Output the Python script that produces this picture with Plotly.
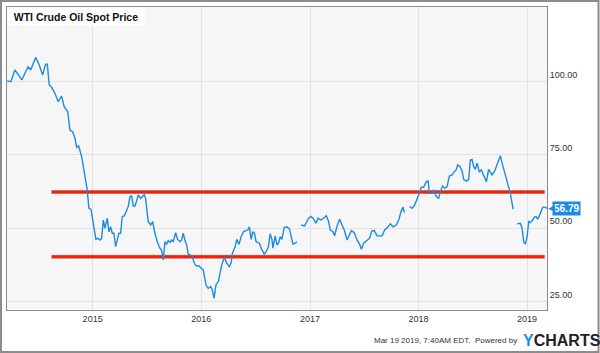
import pandas as pd
import plotly.graph_objects as go

# ---- data ----
# time as decimal years, WTI spot price in USD; None = gap in the series
t_year = [
    # 2014
    2014.213, 2014.247, 2014.284, 2014.314, 2014.348, 2014.376, 2014.406, 2014.429,
    2014.475, 2014.508, 2014.539, 2014.567, 2014.582, 2014.600, 2014.622, 2014.653,
    2014.683, 2014.714, 2014.738, 2014.770, 2014.791, 2014.816, 2014.837, 2014.853,
    2014.871, 2014.899, 2014.913, 2014.929, 2014.950,
    # 2015
    2014.966, 2014.984, 2014.996, 2015.012, 2015.030, 2015.046, 2015.067, 2015.083,
    2015.098, 2015.113, 2015.135, 2015.150, 2015.166, 2015.181, 2015.196, 2015.212,
    2015.227, 2015.242, 2015.258, 2015.273, 2015.291, 2015.313, 2015.328, 2015.344,
    2015.359, 2015.374, 2015.390, 2015.406, 2015.420, 2015.442, 2015.461, 2015.476,
    2015.488, 2015.498, 2015.512, 2015.535, 2015.553, 2015.574, 2015.595, 2015.620,
    2015.636, 2015.651, 2015.666, 2015.682, 2015.697, 2015.712, 2015.728, 2015.743,
    2015.765, 2015.783, 2015.805, 2015.820, 2015.835, 2015.851, 2015.866, 2015.881,
    2015.897, 2015.912, 2015.927, 2015.943, 2015.964, 2015.982, 2015.998,
    # 2016
    2016.019, 2016.044, 2016.065, 2016.088, 2016.102, 2016.118, 2016.136,
    2016.158, 2016.189, 2016.213, 2016.235, 2016.259, 2016.275, 2016.287, 2016.312,
    2016.327, 2016.348, 2016.367, 2016.388, 2016.410, 2016.429, 2016.443, 2016.459,
    2016.475, 2016.489, 2016.505, 2016.535, 2016.558, 2016.579, 2016.597, 2016.618,
    2016.634, 2016.650, 2016.659, 2016.680, 2016.696, 2016.711, 2016.726, 2016.742,
    2016.763, 2016.788, 2016.812, 2016.843, 2016.865, 2016.880, 2016.900,
    # 2017
    2016.920, 2016.950, 2016.987, 2017.012, 2017.033, 2017.055, 2017.074, 2017.101,
    2017.125, 2017.150, 2017.171, 2017.187, 2017.212, 2017.227, 2017.249, 2017.273,
    2017.295, 2017.316, 2017.341, 2017.362, 2017.381, 2017.408, 2017.433, 2017.457,
    2017.473, 2017.494, 2017.525, 2017.549, 2017.571, 2017.593, 2017.618, 2017.664,
    2017.688, 2017.715, 2017.740, 2017.765, 2017.795, 2017.817, 2017.839, 2017.857,
    2017.869, 2017.893,
    # 2018
    2017.918, 2017.940, 2017.964, 2017.986, 2018.007, 2018.026, 2018.047, 2018.072,
    2018.088, 2018.100, 2018.124, 2018.139, 2018.155, 2018.171, 2018.185, 2018.201,
    2018.222, 2018.241, 2018.263, 2018.284, 2018.309, 2018.323, 2018.346, 2018.360,
    2018.379, 2018.401, 2018.416, 2018.441, 2018.462, 2018.477, 2018.493, 2018.508,
    2018.523, 2018.539, 2018.560, 2018.579, 2018.600, 2018.625, 2018.646, 2018.662,
    2018.677, 2018.699, 2018.724, 2018.738, 2018.754, 2018.770, 2018.791, 2018.809,
    2018.830, 2018.846, 2018.871, 2018.890,
    # 2019
    2018.908, 2018.938, 2018.954, 2018.969, 2018.984, 2019.000, 2019.015, 2019.030,
    2019.052, 2019.067, 2019.083, 2019.098, 2019.113, 2019.129, 2019.144, 2019.169,
    2019.182,
]
wti_price = [
    # 2014
    100.3, 100.0, 104.0, 102.3, 100.6, 102.9, 105.1, 104.0,
    108.3, 105.7, 102.3, 106.0, 106.0, 98.9, 98.1, 96.0,
    93.2, 95.1, 91.5, 89.8, 83.5, 82.9, 80.7, 77.6,
    78.1, 74.4, 71.0, 67.6, 63.1,
    # 2015
    56.8, 56.5, 54.0, 49.4, 46.2, 46.6, 46.0, 46.6,
    52.8, 50.0, 53.4, 48.8, 50.5, 48.3, 48.3, 43.7,
    46.6, 48.3, 48.3, 54.0, 54.2, 56.2, 57.4, 60.8,
    61.0, 57.6, 57.6, 59.4, 61.4, 60.2, 60.8, 61.4,
    60.2, 56.2, 52.3, 51.1, 52.3, 48.3, 45.4, 43.2,
    42.4, 39.2, 45.4, 44.6, 45.8, 45.1, 46.0, 45.4,
    48.5, 46.2, 45.4, 46.0, 48.3, 45.8, 44.3, 41.2,
    40.9, 40.6, 39.2, 37.5, 37.1, 37.1, 36.4,
    # 2016
    35.8, 30.7, 29.5, 30.1, 29.0, 26.1, 30.7,
    31.8, 37.5, 40.1, 38.1, 36.9, 38.1, 41.5, 43.7,
    46.2, 44.5, 47.1, 48.8, 49.2, 49.4, 50.5, 46.2,
    48.8, 48.3, 45.4, 44.9, 42.6, 41.2, 42.0, 43.7,
    48.1, 46.2, 43.2, 47.4, 44.3, 44.9, 47.1, 46.2,
    50.2, 50.5, 49.7, 44.6, 44.9, 45.4, None,
    # 2017
    51.1, 50.8, 53.4, 54.0, 53.1, 51.7, 53.4, 52.8,
    53.4, 54.3, 52.3, 49.4, 48.8, 47.4, 50.8, 53.1,
    51.1, 49.4, 46.0, 47.7, 49.2, 48.5, 46.0, 44.6,
    42.8, 44.9, 45.8, 46.6, 49.1, 49.2, 47.4, 47.4,
    49.4, 50.3, 51.5, 50.5, 51.1, 52.8, 55.7, 57.2,
    55.3, None,
    # 2018
    57.4, 56.8, 57.9, 59.7, 61.9, 64.0, 64.0, 65.9,
    66.1, 61.9, 61.9, 63.1, 61.4, 60.6, 60.2, 62.5,
    64.4, 63.6, 64.2, 67.8, 68.2, 69.0, 69.9, 71.6,
    71.2, 69.6, 66.7, 66.1, 66.7, 73.3, 73.5, 71.0,
    70.1, 72.2, 69.3, 69.9, 67.8, 65.9, 70.1, 69.3,
    68.2, 69.3, 71.6, 73.3, 74.7, 72.2, 69.3, 67.6,
    64.2, 61.9, 56.5, None,
    # 2019
    51.5, 51.7, 50.0, 45.4, 44.6, 47.1, 52.3, 51.9,
    52.8, 53.8, 54.0, 53.1, 54.2, 55.7, 57.2, 57.2,
    56.79,
]

# horizontal support / resistance levels (red lines)
level_start = 2014.622
level_end = 2019.161
resistance = 62.4
support = 40.3

y_ticks = [25, 50, 75, 100]
x_ticks = ["2015-01-01", "2016-01-01", "2017-01-01", "2018-01-01", "2019-01-01"]
x_ticklabels = ["2015", "2016", "2017", "2018", "2019"]

title_text = "WTI Crude Oil Spot Price"
footer_text = "Mar 19 2019, 7:40AM EDT.  Powered by"


def to_date(t):
    y = int(t)
    start = pd.Timestamp(y, 1, 1)
    ndays = (pd.Timestamp(y + 1, 1, 1) - start).days
    return start + pd.Timedelta(days=(t - y) * ndays)


n = min(len(t_year), len(wti_price))
dates = [to_date(t) for t in t_year[:n]]
prices = wti_price[:n]

BLUE = "#1c8ce3"
RED = "#f5200a"

fig = go.Figure()

for lvl in (resistance, support):
    fig.add_trace(go.Scatter(
        x=[to_date(level_start), to_date(level_end)], y=[lvl, lvl],
        mode="lines", line=dict(color="#5a1008", width=4),
        hoverinfo="skip", showlegend=False, opacity=0.3))
    fig.add_trace(go.Scatter(
        x=[to_date(level_start), to_date(level_end)], y=[lvl, lvl],
        mode="lines", line=dict(color=RED, width=3),
        hoverinfo="skip", showlegend=False))

fig.add_trace(go.Scatter(
    x=dates, y=prices, mode="lines",
    line=dict(color=BLUE, width=1.4), connectgaps=False,
    showlegend=False))

last_val = prices[-1]
last_date = dates[-1]

fig.update_layout(
    width=600, height=353,
    margin=dict(l=7, r=53, t=7, b=43),
    paper_bgcolor="white",
    plot_bgcolor="#f6f6f6",
    font=dict(family="Liberation Sans, Arial, sans-serif", color="#333333", size=9),
    showlegend=False,
    xaxis=dict(
        range=["2014-03-19", "2019-03-09"],
        tickvals=x_ticks, ticktext=x_ticklabels,
        showgrid=True, gridcolor="#e2e2e2", gridwidth=1,
        showline=True, linecolor="#8c8c8c", linewidth=1, mirror=True,
        ticks="", tickfont=dict(size=9, color="#333333"),
        zeroline=False,
    ),
    yaxis=dict(
        range=[22.1, 125.5], side="right",
        tickvals=y_ticks, tickformat=".2f",
        showgrid=True, gridcolor="#e2e2e2", gridwidth=1,
        showline=True, linecolor="#8c8c8c", linewidth=1, mirror=True,
        ticks="", tickfont=dict(size=9, color="#333333"),
        ticklabelshift=-7, ticklabelstandoff=0,
        zeroline=False,
    ),
)

# title box
fig.add_annotation(
    xref="paper", yref="paper", x=0, y=1, xanchor="left", yanchor="top",
    text="<b>" + title_text + "</b>", showarrow=False,
    font=dict(size=10.5, color="#111111", family="Liberation Sans, Arial, sans-serif"),
    bgcolor="white", width=132, height=13, borderpad=2,
)

# last value tag
fig.add_annotation(
    x=last_date, y=last_val, xanchor="left", yanchor="middle", xshift=5,
    text="<b>%.2f</b>" % last_val, showarrow=False,
    font=dict(size=10, color="white"), bgcolor=BLUE, borderpad=1,
)
fig.add_annotation(
    x=last_date, y=last_val, xanchor="left", yanchor="middle", xshift=-1,
    text="\u25c0", showarrow=False,
    font=dict(size=9, color=BLUE, family="DejaVu Sans"),
)

# footer
fig.add_annotation(
    xref="paper", yref="paper", x=0.948, y=-0.102, xanchor="right", yanchor="middle",
    text=footer_text, showarrow=False,
    font=dict(size=8, color="#333333", family="Liberation Sans Narrow, Liberation Sans, Arial"),
)
fig.add_annotation(
    xref="paper", yref="paper", x=0.951, y=-0.100, xanchor="left", yanchor="middle",
    text="<b><span style='color:#1c8ce3'>Y</span>CHARTS</b>", showarrow=False,
    font=dict(size=16, color="#222222", family="Liberation Sans, Arial"),
)

# outer frame around the whole image
fig.add_shape(
    type="rect", xref="paper", yref="paper",
    x0=-0.0111, x1=1.0954, y0=-0.1386, y1=1.0198,
    line=dict(color="#8c8c8c", width=2), fillcolor="rgba(0,0,0,0)", layer="below",
)

fig.write_html("out.html")
